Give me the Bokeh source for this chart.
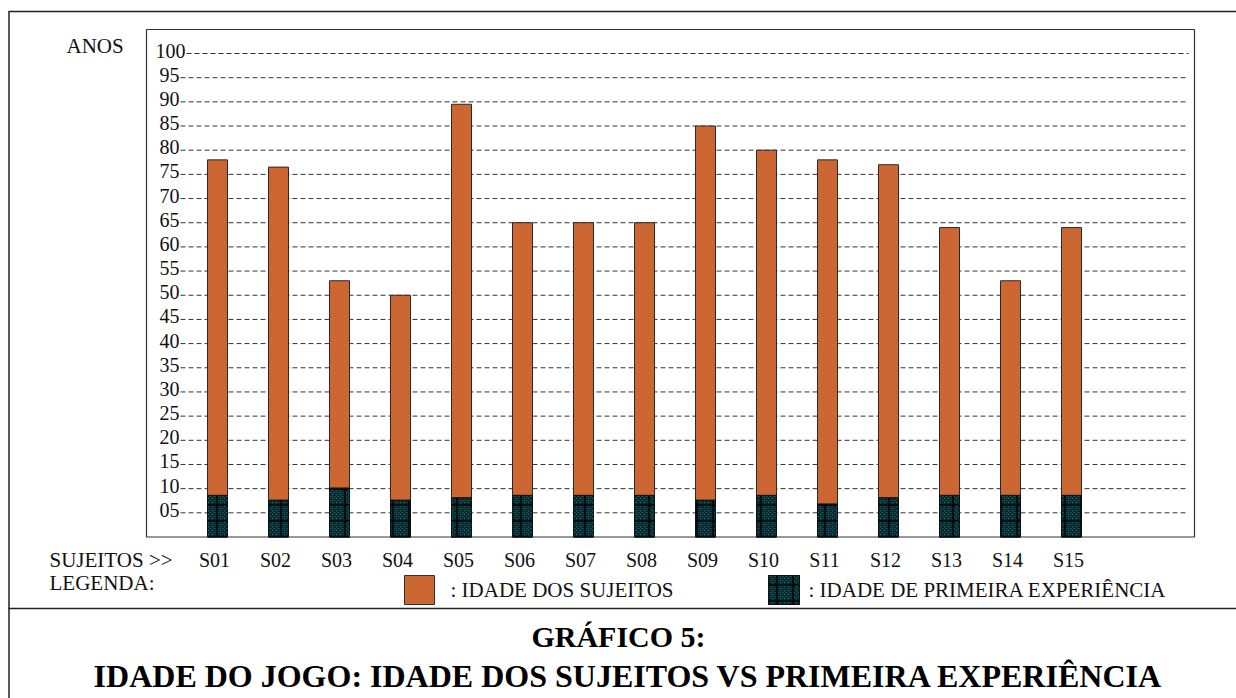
from bokeh.plotting import figure
from bokeh.models import Range1d
from bokeh.embed import file_html
from bokeh.resources import INLINE
from bokeh.core.properties import value

# ---------------- data ----------------
subjects = ["S01", "S02", "S03", "S04", "S05", "S06", "S07", "S08",
            "S09", "S10", "S11", "S12", "S13", "S14", "S15"]
idade_sujeitos = [78, 76.5, 53, 50, 89.5, 65, 65, 65, 85, 80, 78, 77, 64, 53, 64]
idade_primeira = [8.6, 7.6, 10.1, 7.6, 8.1, 8.6, 8.6, 8.6, 7.6, 8.6, 6.8, 8.1, 8.6, 8.6, 8.6]
y_ticks = [5, 10, 15, 20, 25, 30, 35, 40, 45, 50, 55, 60, 65, 70, 75, 80, 85, 90, 95, 100]
y_tick_labels = ["05", "10", "15", "20", "25", "30", "35", "40", "45", "50",
                 "55", "60", "65", "70", "75", "80", "85", "90", "95", "100"]

# ---------------- layout helpers (page pixel -> data) ----------------
W, H = 1236, 698
OFF = 0                 # canvas offset on the page
X0, DX = 217.0, 61.0    # page x of first bar centre, spacing between bars
Y0, DY = 536.5, 4.835   # page y of value 0, pixels per year


def rx(px):
    return (px - X0) / DX


def ry(py):
    return (Y0 - py) / DY


FONT = value("Liberation Serif")
xs = list(range(len(subjects)))
bar_w = 20.0 / DX

p = figure(width=W, height=H,
           x_range=Range1d(rx(OFF), rx(OFF + W)), y_range=Range1d(ry(OFF + H), ry(OFF)),
           output_backend="svg", toolbar_location=None, min_border=0,
           x_axis_location=None, y_axis_location=None)
p.grid.visible = False
p.outline_line_color = None
p.background_fill_color = "white"
p.border_fill_color = "white"

# outer frame lines
p.segment(x0=[rx(8), rx(8.5), rx(8)], y0=[ry(11), ry(11), ry(608)],
          x1=[rx(1236), rx(8.5), rx(1236)], y1=[ry(11), ry(698), ry(608)],
          line_color="#222", line_width=1.5)

# inner box
p.quad(left=[rx(146)], right=[rx(1194)], top=[ry(29)], bottom=[0],
       fill_color=None, line_color="#333", line_width=1.2)

# y labels with dashed lines
lab_x = [rx(155) if len(t) == 3 else rx(159) for t in y_tick_labels]
dash_x0 = [rx(155 + 10 * 3 + 1) if len(t) == 3 else rx(159 + 10 * 2 + 1) for t in y_tick_labels]
p.segment(x0=dash_x0, y0=y_ticks, x1=[rx(1188)] * len(y_ticks), y1=y_ticks,
          line_color="#333", line_width=1, line_dash="5 3")
p.text(x=lab_x, y=[t + 3.0 / DY for t in y_ticks], text=y_tick_labels,
       text_align="left", text_baseline="alphabetic",
       text_font=FONT, text_font_size="20px", text_color="#111")

# bars
p.vbar(x=xs, top=idade_sujeitos, bottom=0, width=bar_w,
       fill_color="#CC6633", line_color="#2a2a2a", line_width=1)
p.vbar(x=xs, top=idade_primeira, bottom=0, width=bar_w,
       fill_color="#0b5e66", line_color="#2a2a2a", line_width=1,
       hatch_pattern="diagonal_cross", hatch_color="#031418",
       hatch_scale=4, hatch_weight=1.2)
p.vbar(x=xs, top=idade_primeira, bottom=0, width=bar_w,
       fill_color=None, line_color="#111", line_width=1,
       hatch_pattern="cross", hatch_color="#000", hatch_scale=16, hatch_weight=1.5)

# texts
p.text(x=[rx(66)], y=[ry(45)], text=["ANOS"], text_align="left",
       text_baseline="alphabetic", text_font=FONT, text_font_size="21px", text_color="#111")
p.text(x=[rx(49)], y=[ry(559)], text=["SUJEITOS >>"], text_align="left",
       text_baseline="alphabetic", text_font=FONT, text_font_size="21px", text_color="#111")
p.text(x=[rx(49)], y=[ry(582)], text=["LEGENDA:"], text_align="left",
       text_baseline="alphabetic", text_font=FONT, text_font_size="21px", text_color="#111")
p.text(x=[x - 3.0 / DX for x in xs], y=[ry(559)] * len(xs), text=subjects,
       text_align="center", text_baseline="alphabetic", text_font=FONT,
       text_font_size="20px", text_color="#111")

# legend
p.quad(left=[rx(404)], right=[rx(434)], top=[ry(575)], bottom=[ry(604)],
       fill_color="#CC6633", line_color="#333", line_width=1)
p.quad(left=[rx(768)], right=[rx(799)], top=[ry(575)], bottom=[ry(604)],
       fill_color="#0b5e66", line_color="#111", line_width=1,
       hatch_pattern="diagonal_cross", hatch_color="#031418", hatch_scale=4, hatch_weight=1.2)
p.quad(left=[rx(768)], right=[rx(799)], top=[ry(575)], bottom=[ry(604)],
       fill_color=None, line_color="#111", line_width=1,
       hatch_pattern="cross", hatch_color="#000", hatch_scale=16, hatch_weight=1.5)
p.text(x=[rx(450), rx(808)], y=[ry(589), ry(589)],
       text=[":  IDADE DOS SUJEITOS", ": IDADE DE PRIMEIRA EXPERIÊNCIA"],
       text_align="left", text_baseline="alphabetic", text_font=FONT,
       text_font_size="21px", text_color="#111")

# title
p.text(x=[rx(618)], y=[ry(636)], text=["GRÁFICO 5:"], text_align="center",
       text_baseline="alphabetic", text_font=FONT, text_font_size="30px",
       text_font_style="bold", text_color="#000")
p.text(x=[rx(628)], y=[ry(675)],
       text=["IDADE DO JOGO: IDADE DOS SUJEITOS VS PRIMEIRA EXPERIÊNCIA"],
       text_align="center", text_baseline="alphabetic", text_font=FONT,
       text_font_size="32px", text_font_style="bold", text_color="#000")

open("out.html", "w").write(file_html(p, INLINE))
